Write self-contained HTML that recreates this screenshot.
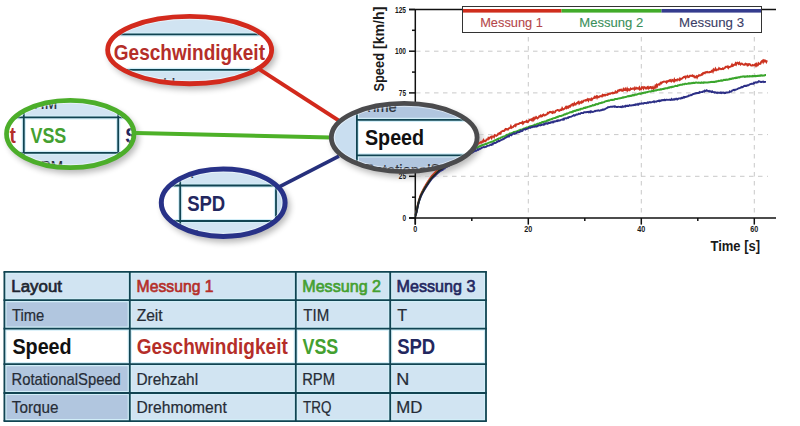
<!DOCTYPE html>
<html><head><meta charset="utf-8"><title>Speed layout</title>
<style>
html,body{margin:0;padding:0;background:#fff;width:800px;height:426px;overflow:hidden}
svg{display:block}
text{font-family:"Liberation Sans",Arial,sans-serif}
.grid{stroke:#c9c9c9;stroke-width:1;stroke-dasharray:4.5 4.5}
.ax{stroke:#111;stroke-width:1.5}
.tk{font-size:8.2px;fill:#1a1a1a;font-weight:bold}
.rg{stroke-width:0.35px}
</style></head><body>
<svg width="800" height="426" viewBox="0 0 800 426">
<defs><clipPath id="tclip"><rect x="4.4" y="271.8" width="481.6" height="149.3"/></clipPath><filter id="blur" x="-20%" y="-20%" width="140%" height="140%"><feGaussianBlur stdDeviation="3"/></filter></defs>
<rect width="800" height="426" fill="#fff"/>
<ellipse cx="192.65" cy="54.05" rx="83.9" ry="35.6" fill="#000" opacity="0.28" filter="url(#blur)"/><ellipse cx="73.25" cy="138" rx="65.6" ry="35.550000000000004" fill="#000" opacity="0.28" filter="url(#blur)"/><ellipse cx="407.2" cy="141.5" rx="74.80000000000001" ry="36.0" fill="#000" opacity="0.28" filter="url(#blur)"/><ellipse cx="226.2" cy="206.7" rx="63.900000000000006" ry="35.7" fill="#000" opacity="0.28" filter="url(#blur)"/>
<line x1="416" y1="51.2" x2="768" y2="51.2" class="grid"/>
<line x1="416" y1="92.9" x2="768" y2="92.9" class="grid"/>
<line x1="416" y1="134.6" x2="768" y2="134.6" class="grid"/>
<line x1="416" y1="176.3" x2="768" y2="176.3" class="grid"/>
<line x1="528.3" y1="10" x2="528.3" y2="217" class="grid"/>
<line x1="641.3" y1="10" x2="641.3" y2="217" class="grid"/>
<line x1="754.3" y1="10" x2="754.3" y2="217" class="grid"/>
<line x1="409" y1="9.5" x2="776" y2="9.5" class="ax"/>
<line x1="415.3" y1="9" x2="415.3" y2="224.6" class="ax"/>
<line x1="409" y1="218" x2="776" y2="218" class="ax"/>
<line x1="409" y1="9.5" x2="415" y2="9.5" class="ax"/>
<line x1="409" y1="51.2" x2="415" y2="51.2" class="ax"/>
<line x1="409" y1="92.9" x2="415" y2="92.9" class="ax"/>
<line x1="409" y1="134.6" x2="415" y2="134.6" class="ax"/>
<line x1="409" y1="176.3" x2="415" y2="176.3" class="ax"/>
<line x1="409" y1="218.0" x2="415" y2="218.0" class="ax"/>
<line x1="412" y1="30.3" x2="415" y2="30.3" class="ax"/>
<line x1="412" y1="72.1" x2="415" y2="72.1" class="ax"/>
<line x1="412" y1="113.8" x2="415" y2="113.8" class="ax"/>
<line x1="412" y1="155.4" x2="415" y2="155.4" class="ax"/>
<line x1="412" y1="197.2" x2="415" y2="197.2" class="ax"/>
<line x1="415.3" y1="218" x2="415.3" y2="224.6" class="ax"/>
<line x1="528.3" y1="218" x2="528.3" y2="224.6" class="ax"/>
<line x1="641.3" y1="218" x2="641.3" y2="224.6" class="ax"/>
<line x1="754.3" y1="218" x2="754.3" y2="224.6" class="ax"/>
<line x1="471.8" y1="218" x2="471.8" y2="221" class="ax"/>
<line x1="584.8" y1="218" x2="584.8" y2="221" class="ax"/>
<line x1="697.8" y1="218" x2="697.8" y2="221" class="ax"/>
<text x="395.0" y="12.5" class="tk" textLength="11" lengthAdjust="spacingAndGlyphs">125</text>
<text x="395.0" y="54.2" class="tk" textLength="11" lengthAdjust="spacingAndGlyphs">100</text>
<text x="398.8" y="95.9" class="tk" textLength="7.2" lengthAdjust="spacingAndGlyphs">75</text>
<text x="398.8" y="137.6" class="tk" textLength="7.2" lengthAdjust="spacingAndGlyphs">50</text>
<text x="398.8" y="179.3" class="tk" textLength="7.2" lengthAdjust="spacingAndGlyphs">25</text>
<text x="402.4" y="221.0" class="tk" textLength="3.6" lengthAdjust="spacingAndGlyphs">0</text>
<text x="413.3" y="231.8" class="tk" textLength="4" lengthAdjust="spacingAndGlyphs">0</text>
<text x="524.3" y="231.8" class="tk" textLength="8" lengthAdjust="spacingAndGlyphs">20</text>
<text x="637.3" y="231.8" class="tk" textLength="8" lengthAdjust="spacingAndGlyphs">40</text>
<text x="750.3" y="231.8" class="tk" textLength="8" lengthAdjust="spacingAndGlyphs">60</text>
<text x="710.46" y="250.6" font-weight="bold" font-size="14" fill="#1a1a1a" textLength="49.66" lengthAdjust="spacingAndGlyphs">Time [s]</text>
<text transform="translate(383.9,0) rotate(-90)" x="-91.6" y="0" font-weight="bold" font-size="14" fill="#1a1a1a" textLength="38.6" lengthAdjust="spacingAndGlyphs">Speed</text>
<text transform="translate(383.9,0) rotate(-90)" x="-48.9" y="0" font-weight="bold" font-size="14" fill="#1a1a1a" textLength="42.2" lengthAdjust="spacingAndGlyphs">[km/h]</text>
<path d="M415.3 215.1L415.8 213.4L416.4 211.6L417.1 208.4L417.7 205.2L418.4 202.2L419.1 199.5L419.9 197.2L420.6 195.2L421.3 193.5L422.0 191.9L422.7 190.6L423.3 189.4L424.0 188.1L424.7 186.8L425.4 185.7L426.0 184.6L426.7 183.5L427.3 182.5L428.0 181.5L428.6 180.5L429.3 179.5L429.9 178.5L430.6 177.6L431.2 176.7L431.8 175.9L432.5 175.2L433.1 174.5L433.7 173.8L434.4 173.2L435.0 172.5L435.6 171.8L436.3 171.2L436.9 170.5L437.5 169.8L438.2 169.2L438.8 168.6L439.4 168.1L440.1 167.3L440.7 166.5L441.4 167.0L442.0 165.4L442.7 165.9L443.3 165.1L444.0 164.1L444.6 164.5L445.2 163.1L445.8 163.5L446.4 162.3L447.1 161.9L447.7 162.1L448.3 162.5L448.9 160.7L449.5 160.4L450.1 160.8L450.8 161.0L451.4 159.8L452.0 159.0L452.6 159.7L453.2 157.4L453.8 158.6L454.5 157.0L455.1 156.3L455.7 155.8L456.3 155.8L456.9 156.3L457.5 154.6L458.2 155.0L458.8 154.7L459.4 153.7L460.0 153.7L460.6 152.3L461.2 151.9L461.9 151.9L462.5 152.5L463.1 151.6L463.7 151.1L464.3 151.3L464.9 150.7L465.6 150.0L466.2 150.7L466.8 150.1L467.4 148.9L468.0 149.2L468.6 148.7L469.2 149.1L469.9 148.5L470.5 147.2L471.1 148.3L471.7 146.2L472.3 146.5L472.9 146.8L473.6 145.3L474.2 145.6L474.8 144.3L475.4 145.3L476.0 145.1L476.6 144.4L477.3 144.6L477.9 143.2L478.5 143.6L479.1 143.1L479.7 142.8L480.4 142.3L481.0 142.8L481.6 142.7L482.2 141.5L482.9 141.6L483.5 140.2L484.1 141.2L484.7 140.8L485.3 141.2L486.0 140.6L486.6 139.3L487.2 139.2L487.8 139.5L488.4 137.9L489.1 138.5L489.7 137.7L490.3 137.3L490.9 136.9L491.6 138.1L492.2 136.5L492.8 136.5L493.4 136.4L494.0 137.1L494.6 135.2L495.2 135.6L495.8 135.4L496.4 135.8L497.0 135.3L497.6 135.1L498.2 133.6L498.8 133.5L499.4 133.1L500.0 133.8L500.6 133.6L501.2 131.7L501.9 131.4L502.5 131.2L503.1 130.8L503.7 131.0L504.3 130.9L504.9 129.9L505.5 129.1L506.1 129.6L506.7 129.1L507.3 129.2L507.9 129.6L508.5 128.8L509.1 128.1L509.7 128.0L510.3 127.8L510.9 126.3L511.5 127.8L512.1 127.3L512.7 127.3L513.3 126.9L513.9 125.9L514.5 125.7L515.1 124.9L515.7 125.8L516.3 124.4L516.9 124.2L517.5 124.3L518.1 124.0L518.7 124.1L519.4 123.3L520.0 123.0L520.6 123.1L521.2 122.8L521.8 123.1L522.4 122.2L523.0 123.7L523.6 123.0L524.2 121.9L524.8 121.9L525.4 121.8L526.0 121.7L526.6 121.0L527.2 122.2L527.8 122.3L528.4 121.0L529.0 120.8L529.6 119.7L530.2 119.5L530.8 119.8L531.4 119.4L532.0 120.3L532.6 118.7L533.2 118.2L533.8 119.8L534.4 118.7L535.0 117.7L535.6 118.2L536.2 117.0L536.9 117.7L537.5 118.4L538.1 117.9L538.7 117.3L539.3 116.2L539.9 116.2L540.5 115.6L541.1 116.5L541.7 115.8L542.3 116.1L542.9 114.9L543.5 114.5L544.1 115.4L544.7 115.5L545.3 115.0L545.9 114.7L546.5 114.6L547.1 114.2L547.7 113.0L548.3 113.4L548.9 112.9L549.5 112.1L550.1 111.9L550.7 112.2L551.3 112.0L551.9 112.7L552.5 113.0L553.1 111.8L553.7 112.6L554.4 112.5L555.0 112.3L555.6 110.9L556.2 110.5L556.8 110.3L557.4 110.0L558.0 109.9L558.6 110.5L559.2 110.9L559.8 110.6L560.4 109.7L561.0 109.9L561.6 110.0L562.2 108.3L562.8 109.3L563.4 109.5L564.0 109.0L564.6 108.7L565.2 107.9L565.8 107.1L566.5 108.0L567.1 106.8L567.7 107.5L568.3 107.6L568.9 106.2L569.5 105.9L570.1 106.8L570.7 106.1L571.3 104.7L572.0 104.4L572.6 104.1L573.2 105.4L573.8 104.9L574.4 103.4L575.0 104.5L575.6 104.6L576.2 103.7L576.8 103.0L577.4 103.2L578.0 102.1L578.6 101.7L579.2 103.5L579.9 102.6L580.5 102.2L581.1 102.8L581.7 101.7L582.3 102.4L582.9 102.1L583.5 100.7L584.1 100.6L584.7 100.5L585.3 100.2L585.9 100.7L586.5 99.8L587.1 100.0L587.7 99.2L588.4 100.6L589.0 99.3L589.6 99.3L590.2 99.4L590.8 99.9L591.4 98.7L592.0 99.5L592.6 98.5L593.2 98.4L593.8 98.2L594.5 97.0L595.1 97.7L595.7 97.0L596.3 96.4L597.0 97.8L597.6 96.4L598.2 96.8L598.8 97.2L599.4 96.6L600.1 96.0L600.7 96.2L601.3 96.1L601.9 96.4L602.5 94.9L603.2 95.6L603.8 94.8L604.4 94.7L605.0 95.5L605.6 94.8L606.3 94.7L606.9 94.9L607.5 95.0L608.1 93.9L608.8 94.1L609.4 93.7L610.0 93.5L610.6 93.7L611.2 93.1L611.8 93.1L612.4 92.8L613.0 93.5L613.7 92.9L614.3 93.1L614.9 93.0L615.5 91.5L616.1 91.9L616.7 92.5L617.3 92.1L617.9 90.6L618.5 90.4L619.1 90.8L619.7 89.9L620.3 90.1L621.0 89.6L621.6 90.6L622.2 90.7L622.8 90.7L623.4 89.1L624.0 90.1L624.6 89.9L625.2 88.8L625.8 90.2L626.4 90.4L627.1 88.8L627.7 90.3L628.3 89.1L628.9 89.3L629.5 90.2L630.1 89.9L630.7 88.5L631.3 89.0L631.9 89.1L632.6 88.7L633.2 88.4L633.8 88.6L634.4 89.4L635.0 87.9L635.6 88.9L636.2 88.7L636.8 87.8L637.4 88.3L638.0 88.8L638.7 88.6L639.3 87.6L639.9 89.4L640.5 88.9L641.1 89.2L641.7 87.4L642.3 87.7L642.9 87.2L643.5 88.6L644.1 87.5L644.7 87.2L645.3 87.7L646.0 88.6L646.6 88.4L647.2 87.2L647.8 86.9L648.4 88.4L649.0 87.7L649.6 88.0L650.3 86.9L650.9 86.9L651.6 88.3L652.2 87.9L652.9 87.1L653.5 88.7L654.1 87.9L654.7 87.9L655.3 86.0L655.9 87.0L656.6 85.0L657.2 86.1L657.8 84.8L658.4 84.2L659.0 84.3L659.6 84.7L660.3 83.1L660.9 82.6L661.5 83.2L662.1 82.4L662.8 82.0L663.4 81.9L664.0 81.5L664.6 81.7L665.2 81.8L665.9 81.6L666.5 82.4L667.1 81.3L667.7 81.6L668.3 80.9L668.9 81.1L669.5 80.3L670.1 80.7L670.8 80.1L671.4 81.4L672.0 80.9L672.6 80.1L673.2 80.5L673.8 81.3L674.4 79.5L675.0 80.8L675.7 79.9L676.3 79.9L676.9 80.5L677.5 79.4L678.1 79.5L678.8 79.7L679.4 80.1L680.0 78.6L680.6 79.4L681.2 79.0L681.9 78.7L682.5 78.0L683.1 77.7L683.8 77.0L684.4 76.9L685.0 76.6L685.6 77.8L686.2 76.6L686.9 76.3L687.5 75.9L688.1 77.2L688.8 77.1L689.4 76.6L690.0 75.7L690.6 75.6L691.3 75.7L692.0 76.1L692.6 75.5L693.2 76.2L693.9 75.9L694.5 77.3L695.2 77.4L695.8 76.6L696.5 76.1L697.1 77.5L697.8 76.1L698.4 76.0L699.1 75.1L699.8 75.5L700.4 75.3L701.0 75.1L701.7 74.2L702.4 74.5L703.0 73.2L703.6 73.4L704.2 72.8L704.9 73.2L705.5 72.3L706.1 72.0L706.7 72.4L707.3 72.0L708.0 72.5L708.6 72.2L709.2 72.4L709.8 72.0L710.4 71.9L711.0 72.0L711.7 70.8L712.3 70.5L712.9 71.6L713.5 69.7L714.1 70.6L714.8 70.2L715.4 68.8L716.0 70.2L716.6 70.2L717.2 69.5L717.9 69.6L718.5 69.6L719.1 68.2L719.7 68.8L720.3 68.7L721.0 69.2L721.6 69.0L722.2 69.0L722.8 68.4L723.4 68.9L724.0 68.3L724.7 68.2L725.3 67.2L725.9 66.7L726.5 66.7L727.1 67.1L727.8 66.4L728.4 67.8L729.0 67.0L729.6 67.0L730.2 66.7L730.8 66.6L731.4 65.9L732.0 64.7L732.6 66.0L733.2 65.7L733.8 64.9L734.4 64.7L735.0 64.7L735.6 63.3L736.2 64.4L736.8 63.1L737.4 62.6L738.0 62.9L738.6 63.8L739.3 62.8L739.9 64.0L740.5 64.6L741.1 63.7L741.8 63.6L742.4 64.0L743.0 64.5L743.7 64.8L744.3 64.6L744.9 64.7L745.5 63.7L746.1 63.9L746.7 64.2L747.3 65.2L747.9 64.4L748.5 65.0L749.1 64.0L749.7 64.1L750.3 64.6L750.9 65.5L751.5 65.6L752.1 65.6L752.7 64.9L753.3 65.3L753.9 65.2L754.6 65.1L755.2 64.3L755.9 65.7L756.5 64.2L757.2 65.6L757.9 65.3L758.5 63.2L759.1 63.7L759.8 63.9L760.5 63.7L761.1 62.1L761.8 61.3L762.4 60.8L763.1 62.1L763.7 60.5L764.4 61.3L765.0 60.4L765.7 61.1L766.3 62.0L767.0 60.4" fill="none" stroke="#cc3321" stroke-width="1.9"/>
<path d="M415.3 215.5L415.8 213.8L416.4 212.2L417.1 209.2L417.7 206.1L418.4 203.2L419.1 200.6L419.9 198.4L420.6 196.5L421.3 194.8L422.0 193.3L422.7 192.1L423.3 190.8L424.0 189.6L424.7 188.4L425.4 187.3L426.0 186.2L426.7 185.2L427.3 184.2L428.0 183.3L428.6 182.3L429.3 181.4L429.9 180.4L430.6 179.5L431.2 178.7L431.8 177.9L432.5 177.2L433.1 176.6L433.7 175.9L434.4 175.3L435.0 174.7L435.6 174.0L436.3 173.4L436.9 172.7L437.5 172.1L438.2 171.5L438.8 170.9L439.4 170.4L440.1 170.1L440.7 169.5L441.4 169.3L442.0 168.8L442.7 168.1L443.3 168.0L444.0 167.4L444.6 166.8L445.2 166.3L445.8 166.2L446.4 165.7L447.1 165.2L447.7 164.7L448.3 164.4L448.9 164.0L449.5 163.8L450.1 163.0L450.8 162.9L451.4 162.5L452.0 161.8L452.6 161.8L453.2 161.2L453.8 160.9L454.5 160.2L455.1 159.8L455.7 159.4L456.3 159.3L456.9 158.6L457.5 158.1L458.2 157.7L458.8 157.2L459.4 156.7L460.0 156.4L460.6 156.4L461.2 155.7L461.9 155.7L462.5 155.1L463.1 154.7L463.7 154.5L464.3 154.1L464.9 153.8L465.6 153.8L466.2 153.4L466.8 153.1L467.4 152.6L468.0 152.5L468.6 152.1L469.2 151.6L469.9 151.4L470.5 150.7L471.1 150.7L471.7 150.3L472.3 150.1L472.9 149.7L473.6 149.2L474.2 148.8L474.8 148.9L475.4 148.1L476.0 148.0L476.6 147.6L477.3 147.3L477.9 147.2L478.5 147.0L479.1 146.4L479.7 146.3L480.4 145.9L481.0 145.8L481.6 145.5L482.2 145.2L482.9 144.9L483.5 144.7L484.1 144.8L484.7 144.4L485.3 144.0L486.0 144.1L486.6 144.0L487.2 143.4L487.8 143.1L488.4 142.9L489.1 142.6L489.7 142.5L490.3 142.1L490.9 142.0L491.6 141.7L492.2 141.7L492.8 141.6L493.4 141.2L494.0 140.8L494.6 140.5L495.2 140.3L495.8 140.0L496.4 139.7L497.0 139.3L497.6 139.1L498.2 139.2L498.8 138.5L499.4 138.4L500.0 138.2L500.6 138.0L501.2 137.4L501.9 137.2L502.5 136.9L503.1 136.7L503.7 136.5L504.3 136.5L504.9 136.1L505.5 135.9L506.1 135.2L506.7 134.9L507.3 135.0L507.9 134.8L508.5 134.3L509.1 134.1L509.7 133.5L510.3 133.5L510.9 133.5L511.5 133.2L512.1 133.0L512.7 132.9L513.3 132.3L513.9 132.0L514.5 131.9L515.1 131.8L515.7 131.7L516.3 131.6L516.9 131.3L517.5 131.0L518.1 130.9L518.7 130.5L519.4 130.4L520.0 129.9L520.6 130.1L521.2 129.6L521.8 129.7L522.4 129.4L523.0 129.0L523.6 128.7L524.2 128.5L524.8 128.5L525.4 128.3L526.0 127.8L526.6 127.6L527.2 127.6L527.8 127.4L528.4 127.1L529.0 126.8L529.6 126.8L530.2 126.3L530.8 126.2L531.4 126.1L532.0 126.2L532.6 125.8L533.2 125.7L533.8 125.3L534.4 125.0L535.0 124.7L535.6 124.9L536.2 124.6L536.9 124.1L537.5 123.8L538.1 123.8L538.7 123.7L539.3 123.4L539.9 123.1L540.5 123.1L541.1 123.0L541.7 122.4L542.3 122.1L542.9 122.1L543.5 121.9L544.1 121.8L544.7 121.4L545.3 121.4L545.9 121.2L546.5 120.9L547.1 120.5L547.7 120.7L548.3 120.1L548.9 120.2L549.5 119.7L550.1 119.5L550.7 119.5L551.3 119.1L551.9 119.2L552.5 118.7L553.1 118.4L553.7 118.2L554.4 118.1L555.0 118.0L555.6 117.9L556.2 117.3L556.8 117.2L557.4 116.9L558.0 117.0L558.6 116.4L559.2 116.2L559.8 115.9L560.4 115.9L561.0 115.9L561.6 115.7L562.2 115.4L562.8 115.3L563.4 115.1L564.0 114.6L564.6 114.3L565.2 114.5L565.8 114.1L566.5 113.6L567.1 113.7L567.7 113.3L568.3 113.1L568.9 112.9L569.5 112.6L570.1 112.3L570.7 112.2L571.3 112.0L572.0 112.1L572.6 111.5L573.2 111.7L573.8 111.1L574.4 110.9L575.0 111.0L575.6 110.8L576.2 110.4L576.8 110.0L577.4 110.1L578.0 109.8L578.6 109.9L579.2 109.4L579.9 109.3L580.5 109.4L581.1 108.7L581.7 108.7L582.3 108.8L582.9 108.6L583.5 108.0L584.1 107.8L584.7 107.7L585.3 107.9L585.9 107.4L586.5 107.5L587.1 107.3L587.7 106.9L588.4 106.7L589.0 106.8L589.6 106.5L590.2 106.1L590.8 106.2L591.4 105.8L592.0 105.6L592.6 105.2L593.2 105.4L593.8 105.3L594.4 105.0L595.0 105.0L595.6 104.3L596.3 104.2L596.9 104.1L597.5 104.2L598.1 104.0L598.7 103.5L599.3 103.3L599.9 103.2L600.5 103.0L601.1 103.0L601.7 102.5L602.3 102.6L602.9 102.4L603.6 102.2L604.2 102.0L604.8 101.7L605.4 101.4L606.0 101.2L606.6 101.1L607.2 101.1L607.9 100.6L608.5 100.5L609.1 100.7L609.7 100.3L610.4 100.1L611.0 99.9L611.6 100.0L612.2 99.8L612.9 100.0L613.5 99.8L614.1 99.7L614.7 99.2L615.4 99.0L616.0 98.9L616.6 98.9L617.2 98.9L617.9 98.6L618.5 98.4L619.1 98.4L619.7 98.3L620.4 98.2L621.0 98.1L621.6 98.0L622.2 97.8L622.8 97.4L623.4 97.6L624.0 97.2L624.7 97.2L625.3 97.0L625.9 97.0L626.5 96.6L627.1 96.5L627.7 96.3L628.3 96.1L628.9 96.4L629.5 96.1L630.1 95.8L630.7 95.7L631.3 95.9L632.0 95.5L632.6 95.2L633.2 95.4L633.8 95.1L634.4 95.2L635.0 94.6L635.6 94.6L636.2 94.7L636.8 94.5L637.4 94.4L638.0 93.9L638.6 93.8L639.3 93.6L639.9 93.5L640.5 93.8L641.1 93.4L641.7 93.5L642.3 93.0L642.9 93.2L643.5 92.8L644.1 92.6L644.7 92.8L645.3 92.7L645.9 92.2L646.5 92.3L647.1 92.2L647.7 91.9L648.3 91.8L648.9 91.6L649.5 91.5L650.1 91.4L650.7 91.5L651.3 91.4L651.9 91.0L652.5 90.8L653.2 90.9L653.8 90.9L654.4 90.5L655.0 90.5L655.6 90.3L656.2 90.5L656.8 90.2L657.4 89.9L658.0 89.8L658.6 89.8L659.2 89.8L659.8 89.7L660.4 89.3L661.0 89.2L661.6 89.4L662.2 89.1L662.8 88.9L663.4 88.8L664.0 89.0L664.6 88.5L665.2 88.5L665.8 88.3L666.4 88.2L667.0 88.2L667.6 88.2L668.2 87.7L668.8 87.5L669.4 87.6L670.0 87.2L670.6 87.0L671.2 87.3L671.8 86.9L672.4 87.0L673.0 86.6L673.6 86.7L674.3 86.4L674.9 86.1L675.5 85.9L676.1 86.0L676.7 85.9L677.3 85.9L677.9 85.3L678.5 85.5L679.1 85.2L679.7 85.1L680.3 84.8L680.9 84.7L681.5 84.7L682.1 84.8L682.7 84.2L683.3 84.3L683.9 84.3L684.5 84.3L685.1 83.8L685.8 83.7L686.4 84.0L687.0 83.9L687.7 83.6L688.3 83.3L688.9 83.7L689.6 83.3L690.2 83.5L690.8 83.3L691.5 83.3L692.1 82.9L692.7 83.1L693.4 82.8L694.0 82.8L694.6 83.0L695.2 82.9L695.8 82.6L696.4 82.6L697.1 82.7L697.7 82.7L698.3 82.7L698.9 82.5L699.5 82.6L700.1 82.8L700.7 82.9L701.3 82.4L701.9 82.7L702.6 82.8L703.2 82.4L703.8 82.8L704.4 82.4L705.0 82.6L705.6 82.6L706.2 82.6L706.9 82.4L707.5 82.4L708.1 82.4L708.8 82.3L709.4 82.3L710.0 82.2L710.6 82.1L711.2 81.9L711.9 82.1L712.5 82.0L713.1 81.8L713.8 82.0L714.4 82.0L715.0 81.7L715.6 81.5L716.2 81.6L716.8 81.3L717.4 81.2L718.0 81.2L718.6 80.9L719.2 81.0L719.8 80.9L720.4 80.6L721.0 80.7L721.6 80.3L722.2 80.6L722.8 80.5L723.4 80.2L724.0 79.9L724.6 80.0L725.2 79.8L725.8 80.0L726.4 79.5L727.0 79.7L727.6 79.7L728.2 79.4L728.8 79.4L729.4 78.9L730.0 79.2L730.6 78.8L731.2 79.0L731.8 78.8L732.4 78.3L733.0 78.5L733.6 78.5L734.2 78.0L734.8 78.0L735.4 78.1L736.0 77.7L736.6 77.9L737.2 77.5L737.8 77.7L738.4 77.2L739.0 77.3L739.6 77.4L740.2 76.9L740.8 76.8L741.4 76.8L742.0 76.7L742.6 76.5L743.2 76.5L743.9 76.4L744.5 76.8L745.1 76.6L745.7 76.7L746.3 76.3L747.0 76.6L747.6 76.2L748.2 76.4L748.8 76.4L749.4 76.2L750.0 76.5L750.7 76.3L751.3 76.2L751.9 76.4L752.5 75.9L753.1 76.3L753.8 76.1L754.4 76.0L755.0 76.1L755.6 75.8L756.2 76.2L756.8 75.9L757.4 75.8L758.1 75.9L758.7 75.7L759.3 75.5L759.9 75.8L760.5 75.4L761.1 75.7L761.7 75.4L762.3 75.5L762.9 75.7L763.6 75.4L764.2 75.4L764.8 75.2L765.4 75.0L766.0 75.0" fill="none" stroke="#3aa52c" stroke-width="2"/>
<path d="M415.3 215.8L415.8 214.2L416.4 212.6L417.1 209.7L417.7 206.7L418.4 203.8L419.1 201.2L419.9 199.1L420.6 197.2L421.3 195.5L422.0 194.1L422.7 192.9L423.3 191.6L424.0 190.4L424.7 189.3L425.4 188.2L426.0 187.1L426.7 186.1L427.3 185.2L428.0 184.2L428.6 183.3L429.3 182.3L429.9 181.4L430.6 180.5L431.2 179.7L431.8 178.9L432.5 178.2L433.1 177.6L433.7 177.0L434.4 176.4L435.0 175.8L435.6 175.1L436.3 174.5L436.9 173.9L437.5 173.2L438.2 172.7L438.8 172.1L439.4 171.7L440.1 170.9L440.7 170.9L441.4 170.4L442.0 170.1L442.7 170.0L443.3 168.9L444.0 168.6L444.6 168.6L445.2 167.7L445.8 167.3L446.4 167.2L447.1 166.5L447.7 166.4L448.3 165.9L448.9 165.8L449.5 165.4L450.1 164.6L450.8 164.6L451.4 164.1L452.0 163.4L452.6 163.7L453.2 162.7L453.8 162.2L454.5 161.7L455.1 161.8L455.7 161.6L456.3 161.2L456.9 160.4L457.5 159.9L458.2 159.3L458.8 159.4L459.4 159.0L460.0 158.4L460.6 158.3L461.2 157.8L461.9 158.0L462.5 157.5L463.1 156.7L463.7 157.0L464.3 155.9L464.9 156.1L465.6 155.7L466.2 155.2L466.8 154.7L467.4 155.1L468.0 154.1L468.6 154.3L469.2 154.3L469.9 153.3L470.5 153.0L471.1 153.1L471.7 152.7L472.3 152.5L472.9 152.3L473.6 151.5L474.2 151.3L474.8 151.0L475.4 150.4L476.0 150.9L476.6 150.5L477.3 150.1L477.9 149.2L478.5 149.7L479.1 149.3L479.7 148.8L480.4 148.8L481.0 148.3L481.6 147.9L482.2 147.6L482.9 147.4L483.5 147.0L484.1 147.1L484.7 147.2L485.3 146.9L486.0 146.8L486.6 146.5L487.2 145.9L487.8 145.9L488.4 145.6L489.1 145.6L489.7 145.2L490.3 144.7L490.9 144.8L491.6 144.9L492.2 144.0L492.8 144.3L493.4 143.2L494.0 143.2L494.6 142.9L495.2 143.0L495.8 142.9L496.4 142.4L497.0 141.7L497.6 141.9L498.2 141.1L498.8 140.8L499.4 141.1L500.0 140.5L500.6 140.3L501.2 139.9L501.9 139.9L502.5 139.2L503.1 139.2L503.7 138.8L504.3 138.6L504.9 137.9L505.5 137.9L506.1 137.5L506.7 136.9L507.3 136.5L507.9 136.6L508.5 135.8L509.1 136.3L509.7 135.3L510.3 134.9L510.9 134.7L511.5 135.2L512.1 134.4L512.7 134.0L513.3 133.7L513.9 133.4L514.5 133.8L515.1 133.5L515.7 133.3L516.3 133.1L516.9 132.3L517.5 132.5L518.1 132.0L518.7 132.2L519.4 132.0L520.0 131.8L520.6 130.8L521.2 131.3L521.8 131.1L522.4 130.9L523.0 129.9L523.6 129.7L524.2 129.4L524.8 129.1L525.4 129.6L526.0 129.3L526.6 128.9L527.2 128.9L527.8 128.5L528.4 128.0L529.0 127.6L529.6 127.5L530.2 127.9L530.8 127.3L531.4 127.2L532.0 127.2L532.6 126.7L533.2 126.7L533.8 126.6L534.4 126.8L535.0 126.4L535.6 126.2L536.2 126.6L536.9 126.0L537.5 126.2L538.1 125.8L538.7 125.1L539.3 125.3L539.9 125.2L540.5 125.4L541.1 124.8L541.7 125.0L542.3 124.7L542.9 124.3L543.5 124.7L544.1 123.8L544.7 124.3L545.3 123.6L545.9 123.3L546.5 123.3L547.1 123.7L547.7 123.7L548.3 122.7L548.9 123.0L549.5 122.8L550.1 123.0L550.7 122.3L551.3 122.4L551.9 122.1L552.5 122.4L553.1 121.7L553.7 122.2L554.4 121.4L555.0 121.2L555.6 121.5L556.2 121.2L556.8 120.7L557.4 121.0L558.0 120.3L558.6 120.8L559.2 120.6L559.8 120.5L560.4 120.2L561.0 119.8L561.6 119.7L562.2 119.5L562.8 119.8L563.4 118.9L564.0 119.4L564.6 118.4L565.2 118.4L565.8 118.2L566.5 118.5L567.1 118.0L567.7 117.6L568.3 117.9L568.9 117.1L569.5 117.0L570.1 116.9L570.7 116.9L571.3 116.6L572.0 116.3L572.6 115.8L573.2 115.6L573.8 115.2L574.4 115.6L575.0 115.3L575.6 115.1L576.3 114.4L576.9 114.5L577.5 114.6L578.1 114.2L578.8 113.6L579.4 113.8L580.0 114.0L580.7 113.2L581.3 113.0L581.9 112.9L582.5 113.1L583.2 113.0L583.8 112.3L584.4 112.2L585.1 112.1L585.7 112.2L586.3 112.3L586.9 111.9L587.6 112.0L588.2 111.8L588.8 112.4L589.5 112.1L590.1 111.5L590.7 112.2L591.3 111.4L592.0 111.6L592.6 112.0L593.2 111.8L593.8 111.6L594.4 111.2L595.0 110.9L595.7 111.2L596.3 110.6L596.9 110.6L597.5 110.7L598.1 110.3L598.7 110.5L599.3 110.8L599.9 110.6L600.6 110.3L601.2 110.3L601.8 110.1L602.4 109.6L603.0 109.9L603.6 109.5L604.3 109.5L604.9 109.3L605.5 108.6L606.2 108.4L606.8 108.2L607.5 107.6L608.1 107.1L608.7 107.2L609.4 107.1L610.0 106.9L610.6 106.7L611.2 106.8L611.9 106.7L612.5 106.7L613.1 106.5L613.8 106.5L614.4 106.8L615.0 106.3L615.6 106.7L616.2 107.0L616.9 107.0L617.5 107.0L618.1 106.7L618.8 106.9L619.4 106.9L620.0 107.0L620.6 106.8L621.2 107.0L621.8 107.1L622.4 106.3L623.0 106.7L623.6 106.7L624.2 106.3L624.8 106.3L625.4 106.6L626.0 105.7L626.6 106.0L627.2 105.6L627.8 106.1L628.4 106.1L629.0 105.6L629.6 105.2L630.2 105.5L630.8 105.4L631.4 105.5L632.0 105.2L632.6 105.2L633.2 105.3L633.8 104.9L634.4 104.7L635.0 105.1L635.6 104.4L636.2 104.7L636.8 104.3L637.4 104.6L638.0 103.9L638.6 104.6L639.2 103.9L639.8 103.6L640.4 103.7L641.0 103.7L641.6 103.3L642.2 103.5L642.8 103.4L643.4 103.6L644.0 103.2L644.6 103.0L645.2 102.9L645.8 103.2L646.4 103.3L647.0 102.9L647.6 102.5L648.2 102.9L648.8 102.4L649.4 102.2L650.0 102.0L650.6 102.5L651.2 102.4L651.8 102.2L652.4 101.9L653.0 101.9L653.6 101.5L654.2 102.1L654.8 101.4L655.4 101.6L656.0 101.7L656.6 101.6L657.2 101.1L657.8 100.9L658.4 101.0L659.0 100.5L659.6 101.1L660.2 100.6L660.8 100.9L661.4 100.3L662.0 100.3L662.6 100.1L663.2 100.2L663.8 100.0L664.4 99.7L665.0 100.3L665.6 99.9L666.2 99.8L666.9 99.8L667.5 99.9L668.1 99.8L668.7 99.9L669.3 99.9L669.9 99.6L670.5 100.0L671.1 99.9L671.7 99.1L672.3 99.8L672.9 99.8L673.5 99.6L674.1 99.0L674.8 99.6L675.4 99.3L676.0 98.7L676.6 98.7L677.2 99.5L677.8 99.1L678.4 98.7L679.0 98.5L679.6 98.4L680.2 98.3L680.8 98.6L681.4 98.0L682.0 97.6L682.6 98.1L683.2 97.8L683.8 97.0L684.4 97.5L685.0 97.0L685.6 97.0L686.2 96.7L686.8 96.7L687.4 96.4L688.0 96.3L688.6 95.5L689.2 95.7L689.8 95.4L690.4 95.4L691.0 94.9L691.6 95.1L692.2 94.6L692.8 94.2L693.4 94.0L694.0 93.7L694.6 93.8L695.2 93.3L695.8 93.5L696.4 93.0L697.0 93.2L697.6 93.0L698.2 92.9L698.8 93.0L699.4 92.1L700.0 92.6L700.7 92.1L701.3 92.1L701.9 92.0L702.5 92.0L703.1 91.4L703.7 91.3L704.3 91.6L704.9 90.6L705.5 91.0L706.1 90.8L706.7 90.3L707.3 90.8L707.9 90.9L708.5 91.3L709.1 90.9L709.7 91.6L710.3 91.3L710.9 91.4L711.5 91.9L712.2 91.3L712.8 92.0L713.4 92.1L714.0 92.0L714.6 92.6L715.2 92.3L715.8 92.5L716.4 92.7L717.0 93.0L717.6 92.5L718.2 92.7L718.8 92.7L719.4 92.8L720.1 93.0L720.7 92.5L721.3 93.0L721.9 92.6L722.5 92.7L723.1 92.5L723.7 92.7L724.3 93.1L724.9 92.8L725.6 92.9L726.2 92.5L726.8 92.5L727.4 92.4L728.0 92.5L728.6 92.4L729.2 92.3L729.8 91.4L730.4 91.8L731.1 91.7L731.7 91.1L732.3 90.4L732.9 90.4L733.5 89.9L734.1 89.8L734.7 90.2L735.3 89.7L736.0 89.5L736.6 89.3L737.2 89.2L737.8 88.7L738.4 88.4L739.0 88.2L739.6 88.1L740.2 87.8L740.8 87.7L741.4 87.0L742.0 87.3L742.6 86.9L743.2 86.9L743.8 86.1L744.4 86.0L745.0 85.7L745.6 86.1L746.2 86.1L746.8 85.6L747.4 85.2L748.0 85.4L748.6 85.2L749.2 84.8L749.8 84.3L750.4 84.1L751.0 84.0L751.6 83.7L752.2 83.7L752.8 83.6L753.4 83.7L754.0 82.7L754.6 83.0L755.2 82.3L755.9 82.2L756.5 82.6L757.1 82.2L757.7 82.4L758.3 81.7L758.9 81.2L759.5 81.5L760.1 81.6L760.8 82.0L761.5 82.1L762.1 81.8L762.8 81.8L763.4 81.6L764.0 82.2L764.7 81.9L765.4 81.9L766.0 81.9" fill="none" stroke="#2c2f86" stroke-width="1.9"/>
<path d="M415.3 217.0L415.8 215.5L416.4 212.5L417.1 208.9L417.7 205.9L418.3 203.5L418.9 201.6L419.4 199.6L420.0 197.7L420.6 196.1L421.1 194.8L421.7 193.9L422.2 192.9L422.7 191.9L423.3 191.0L423.8 190.0L424.3 189.0L424.9 188.1L425.4 187.2L425.9 186.3L426.5 185.5L427.0 184.8L427.5 184.0L428.0 183.2L428.6 182.4L429.1 181.6L429.6 180.8L430.1 180.1L430.7 179.3L431.2 178.6L431.7 178.0L432.2 177.5L432.7 177.0L433.2 176.4L433.7 175.9L434.2 175.4L434.7 174.9L435.3 174.4L435.8 173.9L436.3 173.4L436.8 172.9L437.3 172.3L437.8 171.8L438.3 171.3L438.8 170.9L439.3 170.5L439.9 170.1L440.4 169.8L440.9 169.4L441.4 169.1L442.0 168.7L442.5 168.4L443.0 168.0L443.5 167.7L444.1 167.3L444.6 167.0L445.1 166.7L445.6 166.3L446.1 166.0L446.7 165.6L447.2 165.2L447.7 164.9L448.2 164.5L448.7 164.2L449.2 163.8L449.7 163.5L450.2 163.2L450.8 162.8L451.3 162.5L451.8 162.1L452.3 161.8L452.8 161.4L453.3 161.0L453.8 160.7L454.4 160.3L454.9 160.0L455.4 159.7L455.9 159.3L456.4 159.0L456.9 158.6L457.4 158.2L457.9 157.9L458.5 157.5L459.0 157.2L459.5 156.8L460.0 156.7" fill="none" stroke="#222" stroke-width="1.8"/>
<rect x="462.5" y="6.5" width="299" height="26" fill="#fff" stroke="#333" stroke-width="1"/>
<rect x="463" y="9" width="98.5" height="3.6" fill="#cf2e1d"/>
<rect x="561.5" y="9" width="100" height="3.6" fill="#42ab2a"/>
<rect x="661.5" y="9" width="99.5" height="3.6" fill="#353c8e"/>
<text x="480.18" y="26.9" font-weight="normal" font-size="12.4" fill="#b5474a" stroke="#b5474a" stroke-width="0.1" textLength="62.75" lengthAdjust="spacingAndGlyphs">Messung 1</text>
<text x="579.26" y="26.9" font-weight="normal" font-size="12.4" fill="#3a8f5a" stroke="#3a8f5a" stroke-width="0.1" textLength="63.95" lengthAdjust="spacingAndGlyphs">Messung 2</text>
<text x="679.13" y="26.9" font-weight="normal" font-size="12.4" fill="#3a3d66" stroke="#3a3d66" stroke-width="0.1" textLength="64.91" lengthAdjust="spacingAndGlyphs">Messung 3</text>
<g>
<rect x="4.4" y="271.8" width="125.4" height="28.3" fill="#d1e4f2"/>
<rect x="129.8" y="271.8" width="166.0" height="28.3" fill="#d1e4f2"/>
<rect x="295.8" y="271.8" width="94.4" height="28.3" fill="#d1e4f2"/>
<rect x="390.2" y="271.8" width="95.8" height="28.3" fill="#d1e4f2"/>
<rect x="4.4" y="300.1" width="125.4" height="28.5" fill="#b1c6df"/>
<rect x="129.8" y="300.1" width="166.0" height="28.5" fill="#d1e4f2"/>
<rect x="295.8" y="300.1" width="94.4" height="28.5" fill="#d1e4f2"/>
<rect x="390.2" y="300.1" width="95.8" height="28.5" fill="#d1e4f2"/>
<rect x="4.4" y="328.6" width="125.4" height="35.5" fill="#fff"/>
<rect x="129.8" y="328.6" width="166.0" height="35.5" fill="#fff"/>
<rect x="295.8" y="328.6" width="94.4" height="35.5" fill="#fff"/>
<rect x="390.2" y="328.6" width="95.8" height="35.5" fill="#fff"/>
<rect x="4.4" y="364.1" width="125.4" height="28.9" fill="#b1c6df"/>
<rect x="129.8" y="364.1" width="166.0" height="28.9" fill="#d1e4f2"/>
<rect x="295.8" y="364.1" width="94.4" height="28.9" fill="#d1e4f2"/>
<rect x="390.2" y="364.1" width="95.8" height="28.9" fill="#d1e4f2"/>
<rect x="4.4" y="393" width="125.4" height="28.1" fill="#b1c6df"/>
<rect x="129.8" y="393" width="166.0" height="28.1" fill="#d1e4f2"/>
<rect x="295.8" y="393" width="94.4" height="28.1" fill="#d1e4f2"/>
<rect x="390.2" y="393" width="95.8" height="28.1" fill="#d1e4f2"/>
<g clip-path="url(#tclip)">
<line x1="3.5000000000000004" y1="271.8" x2="486.9" y2="271.8" stroke="#d2eef8" stroke-width="4.2"/>
<line x1="3.5000000000000004" y1="300.1" x2="486.9" y2="300.1" stroke="#d2eef8" stroke-width="4.2"/>
<line x1="3.5000000000000004" y1="328.6" x2="486.9" y2="328.6" stroke="#d2eef8" stroke-width="4.2"/>
<line x1="3.5000000000000004" y1="364.1" x2="486.9" y2="364.1" stroke="#d2eef8" stroke-width="4.2"/>
<line x1="3.5000000000000004" y1="393" x2="486.9" y2="393" stroke="#d2eef8" stroke-width="4.2"/>
<line x1="3.5000000000000004" y1="421.1" x2="486.9" y2="421.1" stroke="#d2eef8" stroke-width="4.2"/>
<line x1="4.4" y1="271.8" x2="4.4" y2="421.1" stroke="#d2eef8" stroke-width="4.2"/>
<line x1="129.8" y1="271.8" x2="129.8" y2="421.1" stroke="#d2eef8" stroke-width="4.2"/>
<line x1="295.8" y1="271.8" x2="295.8" y2="421.1" stroke="#d2eef8" stroke-width="4.2"/>
<line x1="390.2" y1="271.8" x2="390.2" y2="421.1" stroke="#d2eef8" stroke-width="4.2"/>
<line x1="486" y1="271.8" x2="486" y2="421.1" stroke="#d2eef8" stroke-width="4.2"/>
</g>
<line x1="3.5000000000000004" y1="271.8" x2="486.9" y2="271.8" stroke="#114452" stroke-width="1.8"/>
<line x1="3.5000000000000004" y1="300.1" x2="486.9" y2="300.1" stroke="#114452" stroke-width="1.8"/>
<line x1="3.5000000000000004" y1="328.6" x2="486.9" y2="328.6" stroke="#114452" stroke-width="1.8"/>
<line x1="3.5000000000000004" y1="364.1" x2="486.9" y2="364.1" stroke="#114452" stroke-width="1.8"/>
<line x1="3.5000000000000004" y1="393" x2="486.9" y2="393" stroke="#114452" stroke-width="1.8"/>
<line x1="3.5000000000000004" y1="421.1" x2="486.9" y2="421.1" stroke="#114452" stroke-width="1.8"/>
<line x1="4.4" y1="271.8" x2="4.4" y2="421.1" stroke="#114452" stroke-width="1.8"/>
<line x1="129.8" y1="271.8" x2="129.8" y2="421.1" stroke="#114452" stroke-width="1.8"/>
<line x1="295.8" y1="271.8" x2="295.8" y2="421.1" stroke="#114452" stroke-width="1.8"/>
<line x1="390.2" y1="271.8" x2="390.2" y2="421.1" stroke="#114452" stroke-width="1.8"/>
<line x1="486" y1="271.8" x2="486" y2="421.1" stroke="#114452" stroke-width="1.8"/>
<text x="11.30" y="292" font-weight="normal" font-size="16.6" fill="#1e2530" stroke="#1e2530" stroke-width="0.65" textLength="50.68" lengthAdjust="spacingAndGlyphs">Layout</text>
<text x="136.56" y="292" font-weight="normal" font-size="16.6" fill="#b52e29" stroke="#b52e29" stroke-width="0.65" textLength="77.00" lengthAdjust="spacingAndGlyphs">Messung 1</text>
<text x="302.25" y="292" font-weight="normal" font-size="16.6" fill="#44a030" stroke="#44a030" stroke-width="0.65" textLength="78.78" lengthAdjust="spacingAndGlyphs">Messung 2</text>
<text x="396.55" y="292" font-weight="normal" font-size="16.6" fill="#23275f" stroke="#23275f" stroke-width="0.65" textLength="78.85" lengthAdjust="spacingAndGlyphs">Messung 3</text>
<text x="11.92" y="320.8" font-weight="normal" font-size="16.6" fill="#262c36" stroke="#262c36" stroke-width="0.22" textLength="32.31" lengthAdjust="spacingAndGlyphs">Time</text>
<text x="136.64" y="320.8" font-weight="normal" font-size="16.6" fill="#262c36" stroke="#262c36" stroke-width="0.22" textLength="26.03" lengthAdjust="spacingAndGlyphs">Zeit</text>
<text x="303.32" y="320.8" font-weight="normal" font-size="16.6" fill="#262c36" stroke="#262c36" stroke-width="0.22" textLength="25.90" lengthAdjust="spacingAndGlyphs">TIM</text>
<text x="397.34" y="320.8" font-weight="normal" font-size="16.6" fill="#262c36" stroke="#262c36" stroke-width="0.22" textLength="9.88" lengthAdjust="spacingAndGlyphs">T</text>
<text x="12.45" y="354.3" font-weight="bold" font-size="21.2" fill="#111111" textLength="59.22" lengthAdjust="spacingAndGlyphs">Speed</text>
<text x="136.63" y="354.3" font-weight="bold" font-size="21.2" fill="#b52e29" textLength="151.15" lengthAdjust="spacingAndGlyphs">Geschwindigkeit</text>
<text x="302.46" y="354.3" font-weight="bold" font-size="21.2" fill="#44a030" textLength="35.86" lengthAdjust="spacingAndGlyphs">VSS</text>
<text x="397.13" y="354.3" font-weight="bold" font-size="21.2" fill="#23275f" textLength="38.15" lengthAdjust="spacingAndGlyphs">SPD</text>
<text x="11.48" y="384.8" font-weight="normal" font-size="16.6" fill="#262c36" stroke="#262c36" stroke-width="0.22" textLength="109.37" lengthAdjust="spacingAndGlyphs">RotationalSpeed</text>
<text x="136.49" y="384.8" font-weight="normal" font-size="16.6" fill="#262c36" stroke="#262c36" stroke-width="0.22" textLength="61.59" lengthAdjust="spacingAndGlyphs">Drehzahl</text>
<text x="302.16" y="384.8" font-weight="normal" font-size="16.6" fill="#262c36" stroke="#262c36" stroke-width="0.22" textLength="32.80" lengthAdjust="spacingAndGlyphs">RPM</text>
<text x="396.29" y="384.8" font-weight="normal" font-size="16.6" fill="#262c36" stroke="#262c36" stroke-width="0.22" textLength="13.05" lengthAdjust="spacingAndGlyphs">N</text>
<text x="11.83" y="413.2" font-weight="normal" font-size="16.6" fill="#262c36" stroke="#262c36" stroke-width="0.22" textLength="46.56" lengthAdjust="spacingAndGlyphs">Torque</text>
<text x="136.52" y="413.2" font-weight="normal" font-size="16.6" fill="#262c36" stroke="#262c36" stroke-width="0.22" textLength="90.31" lengthAdjust="spacingAndGlyphs">Drehmoment</text>
<text x="303.01" y="413.2" font-weight="normal" font-size="16.6" fill="#262c36" stroke="#262c36" stroke-width="0.22" textLength="28.34" lengthAdjust="spacingAndGlyphs">TRQ</text>
<text x="396.21" y="413.2" font-weight="normal" font-size="16.6" fill="#262c36" stroke="#262c36" stroke-width="0.22" textLength="26.11" lengthAdjust="spacingAndGlyphs">MD</text>
</g>

<clipPath id="c1"><ellipse cx="189.65" cy="50.05" rx="82" ry="33.7"/></clipPath>
<g clip-path="url(#c1)"><rect x="107.65" y="16.349999999999994" width="164" height="67.4" fill="#c9def0"/><g transform="translate(-22.8,-294.3)"><rect x="4.4" y="271.8" width="125.4" height="28.3" fill="#d1e4f2"/>
<rect x="129.8" y="271.8" width="166.0" height="28.3" fill="#d1e4f2"/>
<rect x="295.8" y="271.8" width="94.4" height="28.3" fill="#d1e4f2"/>
<rect x="390.2" y="271.8" width="95.8" height="28.3" fill="#d1e4f2"/>
<rect x="4.4" y="300.1" width="125.4" height="28.5" fill="#b1c6df"/>
<rect x="129.8" y="300.1" width="166.0" height="28.5" fill="#d1e4f2"/>
<rect x="295.8" y="300.1" width="94.4" height="28.5" fill="#d1e4f2"/>
<rect x="390.2" y="300.1" width="95.8" height="28.5" fill="#d1e4f2"/>
<rect x="4.4" y="328.6" width="125.4" height="35.5" fill="#fff"/>
<rect x="129.8" y="328.6" width="166.0" height="35.5" fill="#fff"/>
<rect x="295.8" y="328.6" width="94.4" height="35.5" fill="#fff"/>
<rect x="390.2" y="328.6" width="95.8" height="35.5" fill="#fff"/>
<rect x="4.4" y="364.1" width="125.4" height="28.9" fill="#b1c6df"/>
<rect x="129.8" y="364.1" width="166.0" height="28.9" fill="#d1e4f2"/>
<rect x="295.8" y="364.1" width="94.4" height="28.9" fill="#d1e4f2"/>
<rect x="390.2" y="364.1" width="95.8" height="28.9" fill="#d1e4f2"/>
<rect x="4.4" y="393" width="125.4" height="28.1" fill="#b1c6df"/>
<rect x="129.8" y="393" width="166.0" height="28.1" fill="#d1e4f2"/>
<rect x="295.8" y="393" width="94.4" height="28.1" fill="#d1e4f2"/>
<rect x="390.2" y="393" width="95.8" height="28.1" fill="#d1e4f2"/>
<g clip-path="url(#tclip)">
<line x1="3.5000000000000004" y1="271.8" x2="486.9" y2="271.8" stroke="#d2eef8" stroke-width="4.2"/>
<line x1="3.5000000000000004" y1="300.1" x2="486.9" y2="300.1" stroke="#d2eef8" stroke-width="4.2"/>
<line x1="3.5000000000000004" y1="328.6" x2="486.9" y2="328.6" stroke="#d2eef8" stroke-width="4.2"/>
<line x1="3.5000000000000004" y1="364.1" x2="486.9" y2="364.1" stroke="#d2eef8" stroke-width="4.2"/>
<line x1="3.5000000000000004" y1="393" x2="486.9" y2="393" stroke="#d2eef8" stroke-width="4.2"/>
<line x1="3.5000000000000004" y1="421.1" x2="486.9" y2="421.1" stroke="#d2eef8" stroke-width="4.2"/>
<line x1="4.4" y1="271.8" x2="4.4" y2="421.1" stroke="#d2eef8" stroke-width="4.2"/>
<line x1="129.8" y1="271.8" x2="129.8" y2="421.1" stroke="#d2eef8" stroke-width="4.2"/>
<line x1="295.8" y1="271.8" x2="295.8" y2="421.1" stroke="#d2eef8" stroke-width="4.2"/>
<line x1="390.2" y1="271.8" x2="390.2" y2="421.1" stroke="#d2eef8" stroke-width="4.2"/>
<line x1="486" y1="271.8" x2="486" y2="421.1" stroke="#d2eef8" stroke-width="4.2"/>
</g>
<line x1="3.5000000000000004" y1="271.8" x2="486.9" y2="271.8" stroke="#114452" stroke-width="1.8"/>
<line x1="3.5000000000000004" y1="300.1" x2="486.9" y2="300.1" stroke="#114452" stroke-width="1.8"/>
<line x1="3.5000000000000004" y1="328.6" x2="486.9" y2="328.6" stroke="#114452" stroke-width="1.8"/>
<line x1="3.5000000000000004" y1="364.1" x2="486.9" y2="364.1" stroke="#114452" stroke-width="1.8"/>
<line x1="3.5000000000000004" y1="393" x2="486.9" y2="393" stroke="#114452" stroke-width="1.8"/>
<line x1="3.5000000000000004" y1="421.1" x2="486.9" y2="421.1" stroke="#114452" stroke-width="1.8"/>
<line x1="4.4" y1="271.8" x2="4.4" y2="421.1" stroke="#114452" stroke-width="1.8"/>
<line x1="129.8" y1="271.8" x2="129.8" y2="421.1" stroke="#114452" stroke-width="1.8"/>
<line x1="295.8" y1="271.8" x2="295.8" y2="421.1" stroke="#114452" stroke-width="1.8"/>
<line x1="390.2" y1="271.8" x2="390.2" y2="421.1" stroke="#114452" stroke-width="1.8"/>
<line x1="486" y1="271.8" x2="486" y2="421.1" stroke="#114452" stroke-width="1.8"/>
<text x="11.30" y="292" font-weight="normal" font-size="16.6" fill="#1e2530" stroke="#1e2530" stroke-width="0.65" textLength="50.68" lengthAdjust="spacingAndGlyphs">Layout</text>
<text x="136.56" y="292" font-weight="normal" font-size="16.6" fill="#b52e29" stroke="#b52e29" stroke-width="0.65" textLength="77.00" lengthAdjust="spacingAndGlyphs">Messung 1</text>
<text x="302.25" y="292" font-weight="normal" font-size="16.6" fill="#44a030" stroke="#44a030" stroke-width="0.65" textLength="78.78" lengthAdjust="spacingAndGlyphs">Messung 2</text>
<text x="396.55" y="292" font-weight="normal" font-size="16.6" fill="#23275f" stroke="#23275f" stroke-width="0.65" textLength="78.85" lengthAdjust="spacingAndGlyphs">Messung 3</text>
<text x="11.92" y="320.8" font-weight="normal" font-size="16.6" fill="#262c36" stroke="#262c36" stroke-width="0.22" textLength="32.31" lengthAdjust="spacingAndGlyphs">Time</text>
<text x="136.64" y="320.8" font-weight="normal" font-size="16.6" fill="#262c36" stroke="#262c36" stroke-width="0.22" textLength="26.03" lengthAdjust="spacingAndGlyphs">Zeit</text>
<text x="303.32" y="320.8" font-weight="normal" font-size="16.6" fill="#262c36" stroke="#262c36" stroke-width="0.22" textLength="25.90" lengthAdjust="spacingAndGlyphs">TIM</text>
<text x="397.34" y="320.8" font-weight="normal" font-size="16.6" fill="#262c36" stroke="#262c36" stroke-width="0.22" textLength="9.88" lengthAdjust="spacingAndGlyphs">T</text>
<text x="12.45" y="354.3" font-weight="bold" font-size="21.2" fill="#111111" textLength="59.22" lengthAdjust="spacingAndGlyphs">Speed</text>
<text x="136.63" y="354.3" font-weight="bold" font-size="21.2" fill="#b52e29" textLength="151.15" lengthAdjust="spacingAndGlyphs">Geschwindigkeit</text>
<text x="302.46" y="354.3" font-weight="bold" font-size="21.2" fill="#44a030" textLength="35.86" lengthAdjust="spacingAndGlyphs">VSS</text>
<text x="397.13" y="354.3" font-weight="bold" font-size="21.2" fill="#23275f" textLength="38.15" lengthAdjust="spacingAndGlyphs">SPD</text>
<text x="11.48" y="384.8" font-weight="normal" font-size="16.6" fill="#262c36" stroke="#262c36" stroke-width="0.22" textLength="109.37" lengthAdjust="spacingAndGlyphs">RotationalSpeed</text>
<text x="136.49" y="384.8" font-weight="normal" font-size="16.6" fill="#262c36" stroke="#262c36" stroke-width="0.22" textLength="61.59" lengthAdjust="spacingAndGlyphs">Drehzahl</text>
<text x="302.16" y="384.8" font-weight="normal" font-size="16.6" fill="#262c36" stroke="#262c36" stroke-width="0.22" textLength="32.80" lengthAdjust="spacingAndGlyphs">RPM</text>
<text x="396.29" y="384.8" font-weight="normal" font-size="16.6" fill="#262c36" stroke="#262c36" stroke-width="0.22" textLength="13.05" lengthAdjust="spacingAndGlyphs">N</text>
<text x="11.83" y="413.2" font-weight="normal" font-size="16.6" fill="#262c36" stroke="#262c36" stroke-width="0.22" textLength="46.56" lengthAdjust="spacingAndGlyphs">Torque</text>
<text x="136.52" y="413.2" font-weight="normal" font-size="16.6" fill="#262c36" stroke="#262c36" stroke-width="0.22" textLength="90.31" lengthAdjust="spacingAndGlyphs">Drehmoment</text>
<text x="303.01" y="413.2" font-weight="normal" font-size="16.6" fill="#262c36" stroke="#262c36" stroke-width="0.22" textLength="28.34" lengthAdjust="spacingAndGlyphs">TRQ</text>
<text x="396.21" y="413.2" font-weight="normal" font-size="16.6" fill="#262c36" stroke="#262c36" stroke-width="0.22" textLength="26.11" lengthAdjust="spacingAndGlyphs">MD</text></g></g>
<ellipse cx="189.65" cy="50.05" rx="79.1" ry="30.800000000000004" fill="none" stroke="#fff" stroke-width="1" opacity="0.5"/>
<ellipse cx="189.65" cy="50.05" rx="82" ry="33.7" fill="none" stroke="#d32a1d" stroke-width="4.8"/>


<clipPath id="c2"><ellipse cx="70.25" cy="134" rx="63.75" ry="33.7"/></clipPath>
<g clip-path="url(#c2)"><rect x="6.5" y="100.3" width="127.5" height="67.4" fill="#c9def0"/><g transform="translate(-272,-211.3)"><rect x="4.4" y="271.8" width="125.4" height="28.3" fill="#d1e4f2"/>
<rect x="129.8" y="271.8" width="166.0" height="28.3" fill="#d1e4f2"/>
<rect x="295.8" y="271.8" width="94.4" height="28.3" fill="#d1e4f2"/>
<rect x="390.2" y="271.8" width="95.8" height="28.3" fill="#d1e4f2"/>
<rect x="4.4" y="300.1" width="125.4" height="28.5" fill="#b1c6df"/>
<rect x="129.8" y="300.1" width="166.0" height="28.5" fill="#d1e4f2"/>
<rect x="295.8" y="300.1" width="94.4" height="28.5" fill="#d1e4f2"/>
<rect x="390.2" y="300.1" width="95.8" height="28.5" fill="#d1e4f2"/>
<rect x="4.4" y="328.6" width="125.4" height="35.5" fill="#fff"/>
<rect x="129.8" y="328.6" width="166.0" height="35.5" fill="#fff"/>
<rect x="295.8" y="328.6" width="94.4" height="35.5" fill="#fff"/>
<rect x="390.2" y="328.6" width="95.8" height="35.5" fill="#fff"/>
<rect x="4.4" y="364.1" width="125.4" height="28.9" fill="#b1c6df"/>
<rect x="129.8" y="364.1" width="166.0" height="28.9" fill="#d1e4f2"/>
<rect x="295.8" y="364.1" width="94.4" height="28.9" fill="#d1e4f2"/>
<rect x="390.2" y="364.1" width="95.8" height="28.9" fill="#d1e4f2"/>
<rect x="4.4" y="393" width="125.4" height="28.1" fill="#b1c6df"/>
<rect x="129.8" y="393" width="166.0" height="28.1" fill="#d1e4f2"/>
<rect x="295.8" y="393" width="94.4" height="28.1" fill="#d1e4f2"/>
<rect x="390.2" y="393" width="95.8" height="28.1" fill="#d1e4f2"/>
<g clip-path="url(#tclip)">
<line x1="3.5000000000000004" y1="271.8" x2="486.9" y2="271.8" stroke="#d2eef8" stroke-width="4.2"/>
<line x1="3.5000000000000004" y1="300.1" x2="486.9" y2="300.1" stroke="#d2eef8" stroke-width="4.2"/>
<line x1="3.5000000000000004" y1="328.6" x2="486.9" y2="328.6" stroke="#d2eef8" stroke-width="4.2"/>
<line x1="3.5000000000000004" y1="364.1" x2="486.9" y2="364.1" stroke="#d2eef8" stroke-width="4.2"/>
<line x1="3.5000000000000004" y1="393" x2="486.9" y2="393" stroke="#d2eef8" stroke-width="4.2"/>
<line x1="3.5000000000000004" y1="421.1" x2="486.9" y2="421.1" stroke="#d2eef8" stroke-width="4.2"/>
<line x1="4.4" y1="271.8" x2="4.4" y2="421.1" stroke="#d2eef8" stroke-width="4.2"/>
<line x1="129.8" y1="271.8" x2="129.8" y2="421.1" stroke="#d2eef8" stroke-width="4.2"/>
<line x1="295.8" y1="271.8" x2="295.8" y2="421.1" stroke="#d2eef8" stroke-width="4.2"/>
<line x1="390.2" y1="271.8" x2="390.2" y2="421.1" stroke="#d2eef8" stroke-width="4.2"/>
<line x1="486" y1="271.8" x2="486" y2="421.1" stroke="#d2eef8" stroke-width="4.2"/>
</g>
<line x1="3.5000000000000004" y1="271.8" x2="486.9" y2="271.8" stroke="#114452" stroke-width="1.8"/>
<line x1="3.5000000000000004" y1="300.1" x2="486.9" y2="300.1" stroke="#114452" stroke-width="1.8"/>
<line x1="3.5000000000000004" y1="328.6" x2="486.9" y2="328.6" stroke="#114452" stroke-width="1.8"/>
<line x1="3.5000000000000004" y1="364.1" x2="486.9" y2="364.1" stroke="#114452" stroke-width="1.8"/>
<line x1="3.5000000000000004" y1="393" x2="486.9" y2="393" stroke="#114452" stroke-width="1.8"/>
<line x1="3.5000000000000004" y1="421.1" x2="486.9" y2="421.1" stroke="#114452" stroke-width="1.8"/>
<line x1="4.4" y1="271.8" x2="4.4" y2="421.1" stroke="#114452" stroke-width="1.8"/>
<line x1="129.8" y1="271.8" x2="129.8" y2="421.1" stroke="#114452" stroke-width="1.8"/>
<line x1="295.8" y1="271.8" x2="295.8" y2="421.1" stroke="#114452" stroke-width="1.8"/>
<line x1="390.2" y1="271.8" x2="390.2" y2="421.1" stroke="#114452" stroke-width="1.8"/>
<line x1="486" y1="271.8" x2="486" y2="421.1" stroke="#114452" stroke-width="1.8"/>
<text x="11.30" y="292" font-weight="normal" font-size="16.6" fill="#1e2530" stroke="#1e2530" stroke-width="0.65" textLength="50.68" lengthAdjust="spacingAndGlyphs">Layout</text>
<text x="136.56" y="292" font-weight="normal" font-size="16.6" fill="#b52e29" stroke="#b52e29" stroke-width="0.65" textLength="77.00" lengthAdjust="spacingAndGlyphs">Messung 1</text>
<text x="302.25" y="292" font-weight="normal" font-size="16.6" fill="#44a030" stroke="#44a030" stroke-width="0.65" textLength="78.78" lengthAdjust="spacingAndGlyphs">Messung 2</text>
<text x="396.55" y="292" font-weight="normal" font-size="16.6" fill="#23275f" stroke="#23275f" stroke-width="0.65" textLength="78.85" lengthAdjust="spacingAndGlyphs">Messung 3</text>
<text x="11.92" y="320.8" font-weight="normal" font-size="16.6" fill="#262c36" stroke="#262c36" stroke-width="0.22" textLength="32.31" lengthAdjust="spacingAndGlyphs">Time</text>
<text x="136.64" y="320.8" font-weight="normal" font-size="16.6" fill="#262c36" stroke="#262c36" stroke-width="0.22" textLength="26.03" lengthAdjust="spacingAndGlyphs">Zeit</text>
<text x="303.32" y="320.8" font-weight="normal" font-size="16.6" fill="#262c36" stroke="#262c36" stroke-width="0.22" textLength="25.90" lengthAdjust="spacingAndGlyphs">TIM</text>
<text x="397.34" y="320.8" font-weight="normal" font-size="16.6" fill="#262c36" stroke="#262c36" stroke-width="0.22" textLength="9.88" lengthAdjust="spacingAndGlyphs">T</text>
<text x="12.45" y="354.3" font-weight="bold" font-size="21.2" fill="#111111" textLength="59.22" lengthAdjust="spacingAndGlyphs">Speed</text>
<text x="136.63" y="354.3" font-weight="bold" font-size="21.2" fill="#b52e29" textLength="151.15" lengthAdjust="spacingAndGlyphs">Geschwindigkeit</text>
<text x="302.46" y="354.3" font-weight="bold" font-size="21.2" fill="#44a030" textLength="35.86" lengthAdjust="spacingAndGlyphs">VSS</text>
<text x="397.13" y="354.3" font-weight="bold" font-size="21.2" fill="#23275f" textLength="38.15" lengthAdjust="spacingAndGlyphs">SPD</text>
<text x="11.48" y="384.8" font-weight="normal" font-size="16.6" fill="#262c36" stroke="#262c36" stroke-width="0.22" textLength="109.37" lengthAdjust="spacingAndGlyphs">RotationalSpeed</text>
<text x="136.49" y="384.8" font-weight="normal" font-size="16.6" fill="#262c36" stroke="#262c36" stroke-width="0.22" textLength="61.59" lengthAdjust="spacingAndGlyphs">Drehzahl</text>
<text x="302.16" y="384.8" font-weight="normal" font-size="16.6" fill="#262c36" stroke="#262c36" stroke-width="0.22" textLength="32.80" lengthAdjust="spacingAndGlyphs">RPM</text>
<text x="396.29" y="384.8" font-weight="normal" font-size="16.6" fill="#262c36" stroke="#262c36" stroke-width="0.22" textLength="13.05" lengthAdjust="spacingAndGlyphs">N</text>
<text x="11.83" y="413.2" font-weight="normal" font-size="16.6" fill="#262c36" stroke="#262c36" stroke-width="0.22" textLength="46.56" lengthAdjust="spacingAndGlyphs">Torque</text>
<text x="136.52" y="413.2" font-weight="normal" font-size="16.6" fill="#262c36" stroke="#262c36" stroke-width="0.22" textLength="90.31" lengthAdjust="spacingAndGlyphs">Drehmoment</text>
<text x="303.01" y="413.2" font-weight="normal" font-size="16.6" fill="#262c36" stroke="#262c36" stroke-width="0.22" textLength="28.34" lengthAdjust="spacingAndGlyphs">TRQ</text>
<text x="396.21" y="413.2" font-weight="normal" font-size="16.6" fill="#262c36" stroke="#262c36" stroke-width="0.22" textLength="26.11" lengthAdjust="spacingAndGlyphs">MD</text></g></g>
<ellipse cx="70.25" cy="134" rx="60.9" ry="30.85" fill="none" stroke="#fff" stroke-width="1" opacity="0.5"/>
<ellipse cx="70.25" cy="134" rx="63.75" ry="33.7" fill="none" stroke="#4cae2a" stroke-width="4.7"/>


<clipPath id="c4"><ellipse cx="223.2" cy="202.7" rx="61.9" ry="33.7"/></clipPath>
<g clip-path="url(#c4)"><rect x="161.29999999999998" y="169.0" width="123.8" height="67.4" fill="#c9def0"/><g transform="translate(-210,-143.1)"><rect x="4.4" y="271.8" width="125.4" height="28.3" fill="#d1e4f2"/>
<rect x="129.8" y="271.8" width="166.0" height="28.3" fill="#d1e4f2"/>
<rect x="295.8" y="271.8" width="94.4" height="28.3" fill="#d1e4f2"/>
<rect x="390.2" y="271.8" width="95.8" height="28.3" fill="#d1e4f2"/>
<rect x="4.4" y="300.1" width="125.4" height="28.5" fill="#b1c6df"/>
<rect x="129.8" y="300.1" width="166.0" height="28.5" fill="#d1e4f2"/>
<rect x="295.8" y="300.1" width="94.4" height="28.5" fill="#d1e4f2"/>
<rect x="390.2" y="300.1" width="95.8" height="28.5" fill="#d1e4f2"/>
<rect x="4.4" y="328.6" width="125.4" height="35.5" fill="#fff"/>
<rect x="129.8" y="328.6" width="166.0" height="35.5" fill="#fff"/>
<rect x="295.8" y="328.6" width="94.4" height="35.5" fill="#fff"/>
<rect x="390.2" y="328.6" width="95.8" height="35.5" fill="#fff"/>
<rect x="4.4" y="364.1" width="125.4" height="28.9" fill="#b1c6df"/>
<rect x="129.8" y="364.1" width="166.0" height="28.9" fill="#d1e4f2"/>
<rect x="295.8" y="364.1" width="94.4" height="28.9" fill="#d1e4f2"/>
<rect x="390.2" y="364.1" width="95.8" height="28.9" fill="#d1e4f2"/>
<rect x="4.4" y="393" width="125.4" height="28.1" fill="#b1c6df"/>
<rect x="129.8" y="393" width="166.0" height="28.1" fill="#d1e4f2"/>
<rect x="295.8" y="393" width="94.4" height="28.1" fill="#d1e4f2"/>
<rect x="390.2" y="393" width="95.8" height="28.1" fill="#d1e4f2"/>
<g clip-path="url(#tclip)">
<line x1="3.5000000000000004" y1="271.8" x2="486.9" y2="271.8" stroke="#d2eef8" stroke-width="4.2"/>
<line x1="3.5000000000000004" y1="300.1" x2="486.9" y2="300.1" stroke="#d2eef8" stroke-width="4.2"/>
<line x1="3.5000000000000004" y1="328.6" x2="486.9" y2="328.6" stroke="#d2eef8" stroke-width="4.2"/>
<line x1="3.5000000000000004" y1="364.1" x2="486.9" y2="364.1" stroke="#d2eef8" stroke-width="4.2"/>
<line x1="3.5000000000000004" y1="393" x2="486.9" y2="393" stroke="#d2eef8" stroke-width="4.2"/>
<line x1="3.5000000000000004" y1="421.1" x2="486.9" y2="421.1" stroke="#d2eef8" stroke-width="4.2"/>
<line x1="4.4" y1="271.8" x2="4.4" y2="421.1" stroke="#d2eef8" stroke-width="4.2"/>
<line x1="129.8" y1="271.8" x2="129.8" y2="421.1" stroke="#d2eef8" stroke-width="4.2"/>
<line x1="295.8" y1="271.8" x2="295.8" y2="421.1" stroke="#d2eef8" stroke-width="4.2"/>
<line x1="390.2" y1="271.8" x2="390.2" y2="421.1" stroke="#d2eef8" stroke-width="4.2"/>
<line x1="486" y1="271.8" x2="486" y2="421.1" stroke="#d2eef8" stroke-width="4.2"/>
</g>
<line x1="3.5000000000000004" y1="271.8" x2="486.9" y2="271.8" stroke="#114452" stroke-width="1.8"/>
<line x1="3.5000000000000004" y1="300.1" x2="486.9" y2="300.1" stroke="#114452" stroke-width="1.8"/>
<line x1="3.5000000000000004" y1="328.6" x2="486.9" y2="328.6" stroke="#114452" stroke-width="1.8"/>
<line x1="3.5000000000000004" y1="364.1" x2="486.9" y2="364.1" stroke="#114452" stroke-width="1.8"/>
<line x1="3.5000000000000004" y1="393" x2="486.9" y2="393" stroke="#114452" stroke-width="1.8"/>
<line x1="3.5000000000000004" y1="421.1" x2="486.9" y2="421.1" stroke="#114452" stroke-width="1.8"/>
<line x1="4.4" y1="271.8" x2="4.4" y2="421.1" stroke="#114452" stroke-width="1.8"/>
<line x1="129.8" y1="271.8" x2="129.8" y2="421.1" stroke="#114452" stroke-width="1.8"/>
<line x1="295.8" y1="271.8" x2="295.8" y2="421.1" stroke="#114452" stroke-width="1.8"/>
<line x1="390.2" y1="271.8" x2="390.2" y2="421.1" stroke="#114452" stroke-width="1.8"/>
<line x1="486" y1="271.8" x2="486" y2="421.1" stroke="#114452" stroke-width="1.8"/>
<text x="11.30" y="292" font-weight="normal" font-size="16.6" fill="#1e2530" stroke="#1e2530" stroke-width="0.65" textLength="50.68" lengthAdjust="spacingAndGlyphs">Layout</text>
<text x="136.56" y="292" font-weight="normal" font-size="16.6" fill="#b52e29" stroke="#b52e29" stroke-width="0.65" textLength="77.00" lengthAdjust="spacingAndGlyphs">Messung 1</text>
<text x="302.25" y="292" font-weight="normal" font-size="16.6" fill="#44a030" stroke="#44a030" stroke-width="0.65" textLength="78.78" lengthAdjust="spacingAndGlyphs">Messung 2</text>
<text x="396.55" y="292" font-weight="normal" font-size="16.6" fill="#23275f" stroke="#23275f" stroke-width="0.65" textLength="78.85" lengthAdjust="spacingAndGlyphs">Messung 3</text>
<text x="11.92" y="320.8" font-weight="normal" font-size="16.6" fill="#262c36" stroke="#262c36" stroke-width="0.22" textLength="32.31" lengthAdjust="spacingAndGlyphs">Time</text>
<text x="136.64" y="320.8" font-weight="normal" font-size="16.6" fill="#262c36" stroke="#262c36" stroke-width="0.22" textLength="26.03" lengthAdjust="spacingAndGlyphs">Zeit</text>
<text x="303.32" y="320.8" font-weight="normal" font-size="16.6" fill="#262c36" stroke="#262c36" stroke-width="0.22" textLength="25.90" lengthAdjust="spacingAndGlyphs">TIM</text>
<text x="397.34" y="320.8" font-weight="normal" font-size="16.6" fill="#262c36" stroke="#262c36" stroke-width="0.22" textLength="9.88" lengthAdjust="spacingAndGlyphs">T</text>
<text x="12.45" y="354.3" font-weight="bold" font-size="21.2" fill="#111111" textLength="59.22" lengthAdjust="spacingAndGlyphs">Speed</text>
<text x="136.63" y="354.3" font-weight="bold" font-size="21.2" fill="#b52e29" textLength="151.15" lengthAdjust="spacingAndGlyphs">Geschwindigkeit</text>
<text x="302.46" y="354.3" font-weight="bold" font-size="21.2" fill="#44a030" textLength="35.86" lengthAdjust="spacingAndGlyphs">VSS</text>
<text x="397.13" y="354.3" font-weight="bold" font-size="21.2" fill="#23275f" textLength="38.15" lengthAdjust="spacingAndGlyphs">SPD</text>
<text x="11.48" y="384.8" font-weight="normal" font-size="16.6" fill="#262c36" stroke="#262c36" stroke-width="0.22" textLength="109.37" lengthAdjust="spacingAndGlyphs">RotationalSpeed</text>
<text x="136.49" y="384.8" font-weight="normal" font-size="16.6" fill="#262c36" stroke="#262c36" stroke-width="0.22" textLength="61.59" lengthAdjust="spacingAndGlyphs">Drehzahl</text>
<text x="302.16" y="384.8" font-weight="normal" font-size="16.6" fill="#262c36" stroke="#262c36" stroke-width="0.22" textLength="32.80" lengthAdjust="spacingAndGlyphs">RPM</text>
<text x="396.29" y="384.8" font-weight="normal" font-size="16.6" fill="#262c36" stroke="#262c36" stroke-width="0.22" textLength="13.05" lengthAdjust="spacingAndGlyphs">N</text>
<text x="11.83" y="413.2" font-weight="normal" font-size="16.6" fill="#262c36" stroke="#262c36" stroke-width="0.22" textLength="46.56" lengthAdjust="spacingAndGlyphs">Torque</text>
<text x="136.52" y="413.2" font-weight="normal" font-size="16.6" fill="#262c36" stroke="#262c36" stroke-width="0.22" textLength="90.31" lengthAdjust="spacingAndGlyphs">Drehmoment</text>
<text x="303.01" y="413.2" font-weight="normal" font-size="16.6" fill="#262c36" stroke="#262c36" stroke-width="0.22" textLength="28.34" lengthAdjust="spacingAndGlyphs">TRQ</text>
<text x="396.21" y="413.2" font-weight="normal" font-size="16.6" fill="#262c36" stroke="#262c36" stroke-width="0.22" textLength="26.11" lengthAdjust="spacingAndGlyphs">MD</text></g></g>
<ellipse cx="223.2" cy="202.7" rx="58.9" ry="30.700000000000003" fill="none" stroke="#fff" stroke-width="1" opacity="0.5"/>
<ellipse cx="223.2" cy="202.7" rx="61.9" ry="33.7" fill="none" stroke="#283288" stroke-width="5"/>


<line x1="256.8" y1="67.6" x2="338.5" y2="120.4" stroke="#d2291c" stroke-width="4"/>
<line x1="136" y1="133" x2="331" y2="137.5" stroke="#4db128" stroke-width="4"/>
<line x1="279.7" y1="186.7" x2="339" y2="156.1" stroke="#26307c" stroke-width="3.6"/>


<clipPath id="c3"><ellipse cx="404.2" cy="137.5" rx="72.9" ry="34.1"/></clipPath>
<g clip-path="url(#c3)"><rect x="331.29999999999995" y="103.4" width="145.8" height="68.2" fill="#c9def0"/><g transform="translate(352.5,-208.8)"><rect x="4.4" y="271.8" width="125.4" height="28.3" fill="#d1e4f2"/>
<rect x="129.8" y="271.8" width="166.0" height="28.3" fill="#d1e4f2"/>
<rect x="295.8" y="271.8" width="94.4" height="28.3" fill="#d1e4f2"/>
<rect x="390.2" y="271.8" width="95.8" height="28.3" fill="#d1e4f2"/>
<rect x="4.4" y="300.1" width="125.4" height="28.5" fill="#b1c6df"/>
<rect x="129.8" y="300.1" width="166.0" height="28.5" fill="#d1e4f2"/>
<rect x="295.8" y="300.1" width="94.4" height="28.5" fill="#d1e4f2"/>
<rect x="390.2" y="300.1" width="95.8" height="28.5" fill="#d1e4f2"/>
<rect x="4.4" y="328.6" width="125.4" height="35.5" fill="#fff"/>
<rect x="129.8" y="328.6" width="166.0" height="35.5" fill="#fff"/>
<rect x="295.8" y="328.6" width="94.4" height="35.5" fill="#fff"/>
<rect x="390.2" y="328.6" width="95.8" height="35.5" fill="#fff"/>
<rect x="4.4" y="364.1" width="125.4" height="28.9" fill="#b1c6df"/>
<rect x="129.8" y="364.1" width="166.0" height="28.9" fill="#d1e4f2"/>
<rect x="295.8" y="364.1" width="94.4" height="28.9" fill="#d1e4f2"/>
<rect x="390.2" y="364.1" width="95.8" height="28.9" fill="#d1e4f2"/>
<rect x="4.4" y="393" width="125.4" height="28.1" fill="#b1c6df"/>
<rect x="129.8" y="393" width="166.0" height="28.1" fill="#d1e4f2"/>
<rect x="295.8" y="393" width="94.4" height="28.1" fill="#d1e4f2"/>
<rect x="390.2" y="393" width="95.8" height="28.1" fill="#d1e4f2"/>
<g clip-path="url(#tclip)">
<line x1="3.5000000000000004" y1="271.8" x2="486.9" y2="271.8" stroke="#d2eef8" stroke-width="4.2"/>
<line x1="3.5000000000000004" y1="300.1" x2="486.9" y2="300.1" stroke="#d2eef8" stroke-width="4.2"/>
<line x1="3.5000000000000004" y1="328.6" x2="486.9" y2="328.6" stroke="#d2eef8" stroke-width="4.2"/>
<line x1="3.5000000000000004" y1="364.1" x2="486.9" y2="364.1" stroke="#d2eef8" stroke-width="4.2"/>
<line x1="3.5000000000000004" y1="393" x2="486.9" y2="393" stroke="#d2eef8" stroke-width="4.2"/>
<line x1="3.5000000000000004" y1="421.1" x2="486.9" y2="421.1" stroke="#d2eef8" stroke-width="4.2"/>
<line x1="4.4" y1="271.8" x2="4.4" y2="421.1" stroke="#d2eef8" stroke-width="4.2"/>
<line x1="129.8" y1="271.8" x2="129.8" y2="421.1" stroke="#d2eef8" stroke-width="4.2"/>
<line x1="295.8" y1="271.8" x2="295.8" y2="421.1" stroke="#d2eef8" stroke-width="4.2"/>
<line x1="390.2" y1="271.8" x2="390.2" y2="421.1" stroke="#d2eef8" stroke-width="4.2"/>
<line x1="486" y1="271.8" x2="486" y2="421.1" stroke="#d2eef8" stroke-width="4.2"/>
</g>
<line x1="3.5000000000000004" y1="271.8" x2="486.9" y2="271.8" stroke="#114452" stroke-width="1.8"/>
<line x1="3.5000000000000004" y1="300.1" x2="486.9" y2="300.1" stroke="#114452" stroke-width="1.8"/>
<line x1="3.5000000000000004" y1="328.6" x2="486.9" y2="328.6" stroke="#114452" stroke-width="1.8"/>
<line x1="3.5000000000000004" y1="364.1" x2="486.9" y2="364.1" stroke="#114452" stroke-width="1.8"/>
<line x1="3.5000000000000004" y1="393" x2="486.9" y2="393" stroke="#114452" stroke-width="1.8"/>
<line x1="3.5000000000000004" y1="421.1" x2="486.9" y2="421.1" stroke="#114452" stroke-width="1.8"/>
<line x1="4.4" y1="271.8" x2="4.4" y2="421.1" stroke="#114452" stroke-width="1.8"/>
<line x1="129.8" y1="271.8" x2="129.8" y2="421.1" stroke="#114452" stroke-width="1.8"/>
<line x1="295.8" y1="271.8" x2="295.8" y2="421.1" stroke="#114452" stroke-width="1.8"/>
<line x1="390.2" y1="271.8" x2="390.2" y2="421.1" stroke="#114452" stroke-width="1.8"/>
<line x1="486" y1="271.8" x2="486" y2="421.1" stroke="#114452" stroke-width="1.8"/>
<text x="11.30" y="292" font-weight="normal" font-size="16.6" fill="#1e2530" stroke="#1e2530" stroke-width="0.65" textLength="50.68" lengthAdjust="spacingAndGlyphs">Layout</text>
<text x="136.56" y="292" font-weight="normal" font-size="16.6" fill="#b52e29" stroke="#b52e29" stroke-width="0.65" textLength="77.00" lengthAdjust="spacingAndGlyphs">Messung 1</text>
<text x="302.25" y="292" font-weight="normal" font-size="16.6" fill="#44a030" stroke="#44a030" stroke-width="0.65" textLength="78.78" lengthAdjust="spacingAndGlyphs">Messung 2</text>
<text x="396.55" y="292" font-weight="normal" font-size="16.6" fill="#23275f" stroke="#23275f" stroke-width="0.65" textLength="78.85" lengthAdjust="spacingAndGlyphs">Messung 3</text>
<text x="11.92" y="320.8" font-weight="normal" font-size="16.6" fill="#262c36" stroke="#262c36" stroke-width="0.22" textLength="32.31" lengthAdjust="spacingAndGlyphs">Time</text>
<text x="136.64" y="320.8" font-weight="normal" font-size="16.6" fill="#262c36" stroke="#262c36" stroke-width="0.22" textLength="26.03" lengthAdjust="spacingAndGlyphs">Zeit</text>
<text x="303.32" y="320.8" font-weight="normal" font-size="16.6" fill="#262c36" stroke="#262c36" stroke-width="0.22" textLength="25.90" lengthAdjust="spacingAndGlyphs">TIM</text>
<text x="397.34" y="320.8" font-weight="normal" font-size="16.6" fill="#262c36" stroke="#262c36" stroke-width="0.22" textLength="9.88" lengthAdjust="spacingAndGlyphs">T</text>
<text x="12.45" y="354.3" font-weight="bold" font-size="21.2" fill="#111111" textLength="59.22" lengthAdjust="spacingAndGlyphs">Speed</text>
<text x="136.63" y="354.3" font-weight="bold" font-size="21.2" fill="#b52e29" textLength="151.15" lengthAdjust="spacingAndGlyphs">Geschwindigkeit</text>
<text x="302.46" y="354.3" font-weight="bold" font-size="21.2" fill="#44a030" textLength="35.86" lengthAdjust="spacingAndGlyphs">VSS</text>
<text x="397.13" y="354.3" font-weight="bold" font-size="21.2" fill="#23275f" textLength="38.15" lengthAdjust="spacingAndGlyphs">SPD</text>
<text x="11.48" y="384.8" font-weight="normal" font-size="16.6" fill="#262c36" stroke="#262c36" stroke-width="0.22" textLength="109.37" lengthAdjust="spacingAndGlyphs">RotationalSpeed</text>
<text x="136.49" y="384.8" font-weight="normal" font-size="16.6" fill="#262c36" stroke="#262c36" stroke-width="0.22" textLength="61.59" lengthAdjust="spacingAndGlyphs">Drehzahl</text>
<text x="302.16" y="384.8" font-weight="normal" font-size="16.6" fill="#262c36" stroke="#262c36" stroke-width="0.22" textLength="32.80" lengthAdjust="spacingAndGlyphs">RPM</text>
<text x="396.29" y="384.8" font-weight="normal" font-size="16.6" fill="#262c36" stroke="#262c36" stroke-width="0.22" textLength="13.05" lengthAdjust="spacingAndGlyphs">N</text>
<text x="11.83" y="413.2" font-weight="normal" font-size="16.6" fill="#262c36" stroke="#262c36" stroke-width="0.22" textLength="46.56" lengthAdjust="spacingAndGlyphs">Torque</text>
<text x="136.52" y="413.2" font-weight="normal" font-size="16.6" fill="#262c36" stroke="#262c36" stroke-width="0.22" textLength="90.31" lengthAdjust="spacingAndGlyphs">Drehmoment</text>
<text x="303.01" y="413.2" font-weight="normal" font-size="16.6" fill="#262c36" stroke="#262c36" stroke-width="0.22" textLength="28.34" lengthAdjust="spacingAndGlyphs">TRQ</text>
<text x="396.21" y="413.2" font-weight="normal" font-size="16.6" fill="#262c36" stroke="#262c36" stroke-width="0.22" textLength="26.11" lengthAdjust="spacingAndGlyphs">MD</text></g></g>
<ellipse cx="404.2" cy="137.5" rx="70.0" ry="31.200000000000003" fill="none" stroke="#fff" stroke-width="1" opacity="0.5"/>
<ellipse cx="404.2" cy="137.5" rx="72.9" ry="34.1" fill="none" stroke="#4b4b4d" stroke-width="4.8"/>

</svg>
</body></html>
